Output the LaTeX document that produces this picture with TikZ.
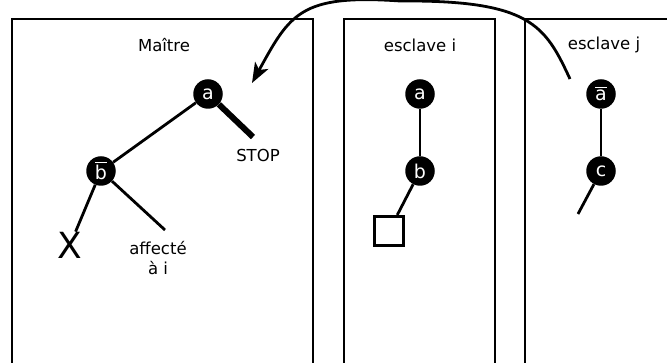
\documentclass[tikz,border=0pt]{standalone}
\usepackage{fontspec}
\setmainfont{DejaVu Sans}
\usetikzlibrary{arrows.meta}
\newcommand\ovl[1]{\vbox{\hrule height 1.3pt \kern 1.6pt \hbox{#1}}}
\tikzset{
  panel/.style={line width=2.8pt},
  vtx/.style={circle, fill=black, text=white, minimum size=29.5pt, inner sep=0pt, font=\fontsize{19}{19}\selectfont},
  lbl/.style={font=\fontsize{16.5}{20}\selectfont, inner sep=0pt},
  edge/.style={line width=2.8pt},
  thick edge/.style={line width=6pt},
  leafbox/.style={draw, line width=3pt, minimum size=29pt, inner sep=0pt},
}
\begin{document}
\begin{tikzpicture}[x=1pt,y=-1pt]
\useasboundingbox (0,0) rectangle (667,363);
% panels
\draw[panel] (12,363) -- (12,19) -- (313,19) -- (313,363);
\draw[panel] (344,363) -- (344,19) -- (495,19) -- (495,363);
\draw[panel] (525,363) -- (525,19) -- (667,19);
% titles
\node[lbl] (tm) at (164,45) {Maître};
\node[lbl] (ti) at (420,45) {esclave i};
\node[lbl] (tj) at (604,45) {esclave j};
% master tree
\node[vtx] (ma) at (208,94) {a};
\node[vtx] (mb) at (101,171) {\ovl{b}};
\coordinate (stopend) at (253,137);
\node[lbl] (stop) at (258,155) {STOP};
\node[inner sep=0pt, font=\fontsize{36}{36}\selectfont] (x) at (70,245) {X};
\coordinate (affend) at (165,230);
\node[lbl, align=center] (aff) at (158,258) {affecté\\à i};
\draw[edge] (ma) -- (mb);
\draw[thick edge] (ma) -- (stopend);
\draw[edge] (mb) -- (x);
\draw[edge] (mb) -- (affend);
% slave i
\node[vtx] (ia) at (420,94) {a};
\node[vtx] (ib) at (420,171) {b};
\node[leafbox] (isq) at (389,231) {};
\draw[edge] (ia) -- (ib);
\draw[edge] (ib) -- (isq);
% slave j
\node[vtx] (ja) at (601,94) {\ovl{a}};
\node[vtx] (jc) at (601,171) {c};
\coordinate (jend) at (578,214);
\draw[edge] (ja) -- (jc);
\draw[edge] (jc) -- (jend);
% transfer arrow
\coordinate (js) at (570,79);
\coordinate (jm) at (400,1);
\coordinate (mt) at (252,83);
\draw[edge, -{Stealth[length=20pt,width=15pt,inset=5pt]}] (js) .. controls (545,25) and (530,0) .. (jm) .. controls (300,-6) and (290,14) .. (mt);
\end{tikzpicture}
\end{document}
